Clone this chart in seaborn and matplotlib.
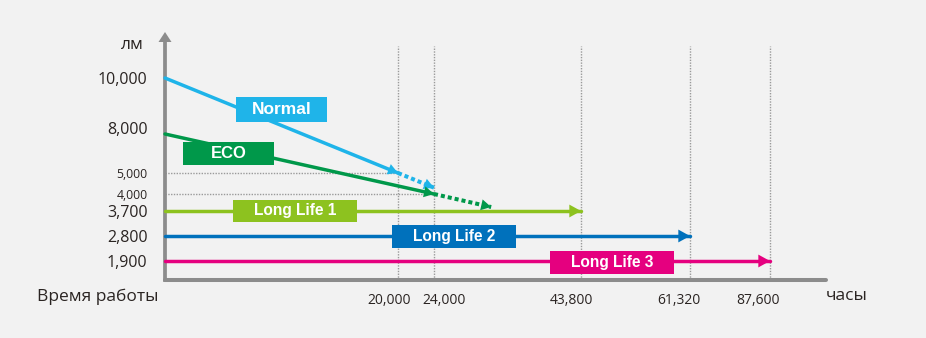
import numpy as np
import matplotlib
matplotlib.use("Agg")
import matplotlib.pyplot as plt
import seaborn as sns
from matplotlib.patches import Rectangle
from matplotlib.transforms import ScaledTranslation

# ---------------- data ----------------
y_ticks = [1900, 2800, 3700, 4000, 5000, 8000, 10000]
y_tick_labels = ["1,900", "2,800", "3,700", "4,000", "5,000", "8,000", "10,000"]
x_ticks = [20000, 24000, 43800, 61320, 87600]
x_tick_labels = ["20,000", "24,000", "43,800", "61,320", "87,600"]

normal_hours = [0, 20000]
normal_lm = [10000, 5000]
normal_ext_hours = [20000, 24000]
normal_ext_lm = [5000, 4300]

eco_hours = [0, 24000]
eco_lm = [7600, 4000]
eco_ext_hours = [24000, 31700]
eco_ext_lm = [4000, 3770]

ll_names = ["Long Life 1", "Long Life 2", "Long Life 3"]
ll_lm = [3700, 2800, 1900]
ll_hours = [43800, 61320, 87600]

# ---------------- styling / layout ----------------
W, H = 926, 338
BG = "#f2f2f2"
GRAY = "#8c8c8c"
TXT = "#2a2422"
C_NORMAL = "#1fb4e9"
C_ECO = "#00984a"
C_LL = ["#8dc21f", "#0071bc", "#e5007f"]

# schematic (piecewise) axis scales: value knots -> pixel positions
x_knot_vals = [-16500, 0] + x_ticks + [120000]
x_knot_px = [0, 165, 398, 434, 581, 690, 770, 926]
y_knot_vals = [-3000, 0] + y_ticks + [14000]
y_knot_px = [0, 58, 77, 102, 127, 144, 165, 210, 260, 338]


def xf(v):
    return np.interp(np.asarray(v, dtype=float), x_knot_vals, x_knot_px)


def xi(p):
    return np.interp(np.asarray(p, dtype=float), x_knot_px, x_knot_vals)


def yf(v):
    return np.interp(np.asarray(v, dtype=float), y_knot_vals, y_knot_px)


def yi(p):
    return np.interp(np.asarray(p, dtype=float), y_knot_px, y_knot_vals)


sns.set_style("white", {"axes.facecolor": BG, "figure.facecolor": BG})
plt.rcParams["font.family"] = ["Open Sans", "DejaVu Sans"]

fig = plt.figure(figsize=(W / 100, H / 100), dpi=100)
fig.patch.set_facecolor(BG)
ax = fig.add_axes([0, 0, 1, 1])
ax.set_facecolor(BG)
ax.set_xscale("function", functions=(xf, xi))
ax.set_yscale("function", functions=(yf, yi))
ax.set_xlim(x_knot_vals[0], x_knot_vals[-1])
ax.set_ylim(y_knot_vals[0], y_knot_vals[-1])

# spines as the axes
for s in ["top", "right"]:
    ax.spines[s].set_visible(False)
ax.spines["left"].set_position(("data", 0))
ax.spines["bottom"].set_position(("data", 0))
ax.spines["left"].set_color(GRAY)
ax.spines["bottom"].set_color(GRAY)
ax.spines["left"].set_linewidth(2.7)
ax.spines["bottom"].set_linewidth(2.9)
ax.spines["left"].set_bounds(0, float(yi(H - 41)))
ax.spines["bottom"].set_bounds(0, float(xi(826)))
ax.spines["bottom"].set_capstyle("round")

# y-axis arrowhead
ax.annotate("", xy=(0, (H - 32) / H), xytext=(0, (H - 44) / H),
            xycoords=("data", "axes fraction"), textcoords=("data", "axes fraction"),
            arrowprops=dict(arrowstyle="-|>,head_length=0.4,head_width=0.26",
                            lw=0, color=GRAY, mutation_scale=18, shrinkA=0, shrinkB=0))

# ticks
ax.set_yticks(y_ticks, y_tick_labels)
ax.tick_params(axis="y", length=9, width=1.3, color=GRAY, pad=3.5, direction="out",
               labelcolor=TXT)
for lab, v in zip(ax.get_yticklabels(), y_ticks):
    lab.set_fontsize(8.8 if v in (4000, 5000) else 11.5)

ax.set_xticks(x_ticks, x_tick_labels)
ax.tick_params(axis="x", length=0, pad=9, labelsize=10, labelcolor=TXT)
x_label_dx = [-9, 10, -10, -11, -12]
for lab, dx in zip(ax.get_xticklabels(), x_label_dx):
    lab.set_transform(lab.get_transform() + ScaledTranslation(dx / 100, 0, fig.dpi_scale_trans))

# vertical dotted guides
for xv in x_ticks:
    ax.axvline(xv, ymin=(H - 280) / H, ymax=(H - 46) / H, color="#9a9a9a",
               lw=1.0, ls=(0, (1, 1)), zorder=1)
# horizontal dotted guides
ax.hlines(normal_lm[1], 0, normal_hours[1], color="#9a9a9a", lw=1.0, ls=(0, (1, 1)), zorder=1)
ax.hlines(eco_lm[1], 0, eco_hours[1], color="#9a9a9a", lw=1.0, ls=(0, (1, 1)), zorder=1)


def head(x0, y0, x1, y1, color, ms=18):
    ax.annotate("", xy=(x1, y1), xytext=(x0, y0),
                arrowprops=dict(arrowstyle="-|>,head_length=0.4,head_width=0.22",
                                lw=0, color=color, mutation_scale=ms,
                                shrinkA=0, shrinkB=0), zorder=4)


LW = 2.5
DOT = (0, (1, 0.75))

# Normal
sns.lineplot(x=normal_hours, y=normal_lm, ax=ax, color=C_NORMAL, lw=LW, zorder=3)
head(normal_hours[0], normal_lm[0], normal_hours[1], normal_lm[1], C_NORMAL)
sns.lineplot(x=normal_ext_hours, y=normal_ext_lm, ax=ax, color=C_NORMAL, lw=2.9, ls=DOT, zorder=3)
head(normal_ext_hours[0], normal_ext_lm[0], normal_ext_hours[1], normal_ext_lm[1], C_NORMAL)

# ECO
sns.lineplot(x=eco_hours, y=eco_lm, ax=ax, color=C_ECO, lw=LW, zorder=3)
head(eco_hours[0], eco_lm[0], eco_hours[1], eco_lm[1], C_ECO)
sns.lineplot(x=eco_ext_hours, y=eco_ext_lm, ax=ax, color=C_ECO, lw=2.9, ls=DOT, zorder=3)
head(eco_ext_hours[0], eco_ext_lm[0], eco_ext_hours[1], eco_ext_lm[1], C_ECO)

# Long life
for name, lm, hrs, c in zip(ll_names, ll_lm, ll_hours, C_LL):
    sns.lineplot(x=[0, hrs], y=[lm, lm], ax=ax, color=c, lw=LW, zorder=3)
    head(0, lm, hrs, lm, c, ms=21)

# label boxes (pixel layout: center x, center y, width, height)
boxes = [
    ("Normal", C_NORMAL, 281.5, 109.5, 91, 24, 12.5),
    ("ECO", C_ECO, 228.5, 153.5, 91, 23, 12),
    (ll_names[0], C_LL[0], 295, 210.5, 124, 22, 11.2),
    (ll_names[1], C_LL[1], 454, 236.5, 124, 23, 11.2),
    (ll_names[2], C_LL[2], 612, 262, 124, 23, 11.2),
]
for text, c, cx, cy, bw, bh, fs in boxes:
    fig.add_artist(Rectangle(((cx - bw / 2) / W, 1 - (cy + bh / 2) / H), bw / W, bh / H,
                             transform=fig.transFigure, facecolor=c, edgecolor="none",
                             zorder=5))
    fig.text(cx / W, 1 - (cy + 0.5) / H, text, ha="center", va="center", color="white",
             fontsize=fs, fontweight="bold", family=["Liberation Sans", "DejaVu Sans"],
             zorder=6)

# axis titles
fig.text(132 / W, 1 - 45 / H, "лм", ha="center", va="center", fontsize=12.5, color=TXT)
fig.text(37 / W, 1 - 297 / H, "Время работы", ha="left", va="center", fontsize=12.5, color=TXT)
fig.text(826 / W, 1 - 296 / H, "часы", ha="left", va="center", fontsize=12.5, color=TXT)

fig.savefig("out.png", dpi=100, facecolor=BG)
